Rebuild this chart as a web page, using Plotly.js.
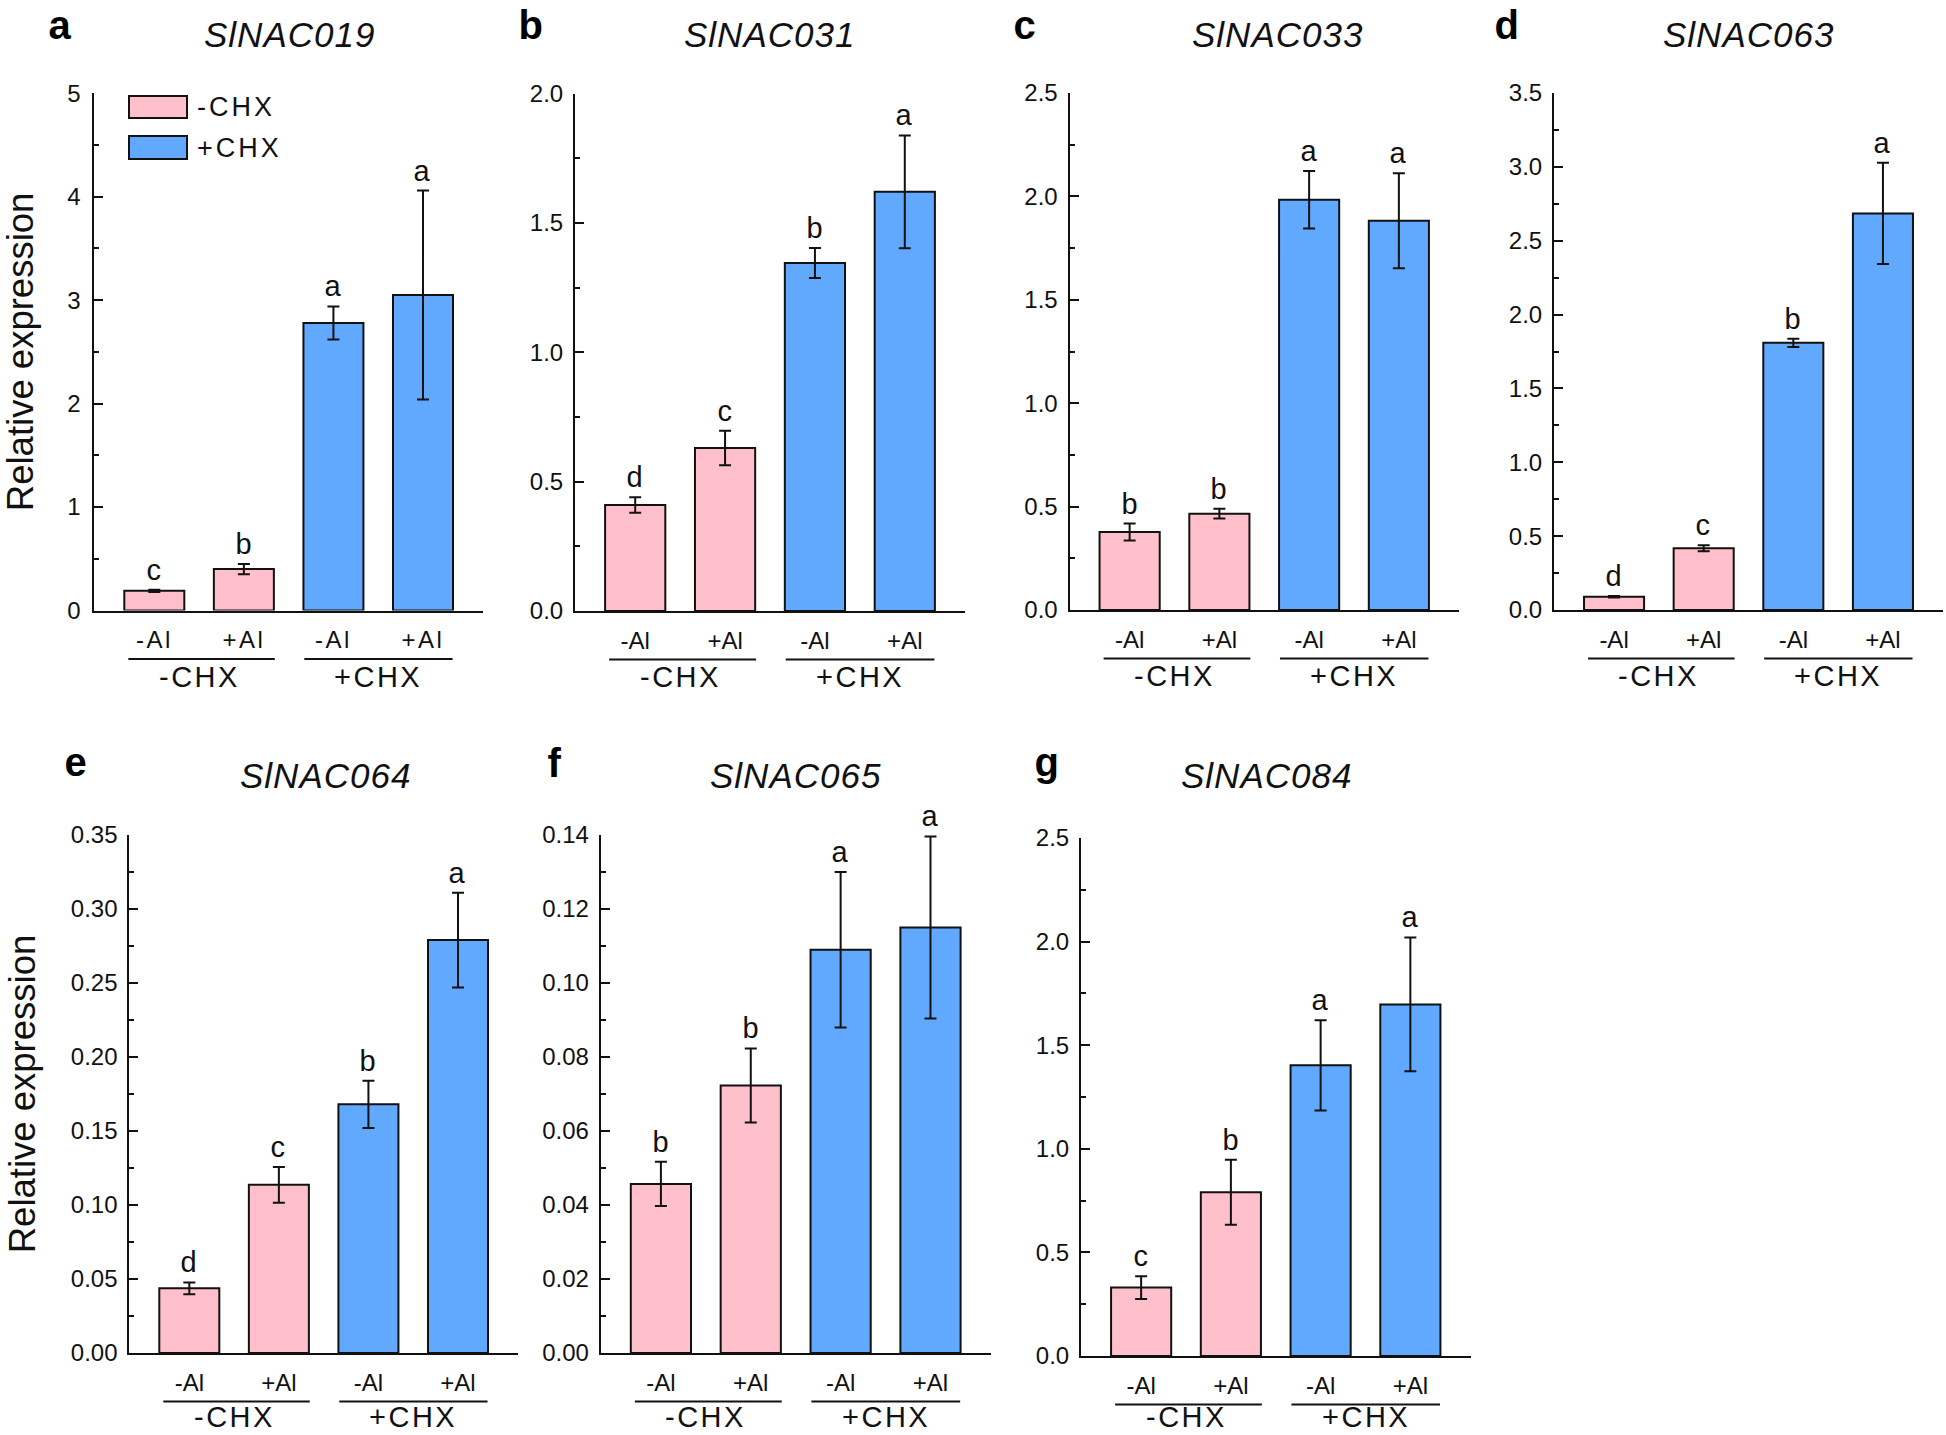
<!DOCTYPE html>
<html>
<head>
<meta charset="utf-8">
<script src="https://cdn.plot.ly/plotly-3.0.1.min.js"></script>
<style>
  html, body { margin: 0; padding: 0; background: #ffffff; }
  #chart { width: 1946px; height: 1435px; }
  #chart .xtick text { letter-spacing: 2.5px; }
  #chart .ytick text { letter-spacing: 2px; }
  #chart .annotation-text { letter-spacing: 1px; }
</style>
</head>
<body>
<div id="chart"></div>
<script>
// ---------------- DATA ----------------
const genes = ["SlNAC019", "SlNAC031", "SlNAC033", "SlNAC063", "SlNAC064", "SlNAC065", "SlNAC084"];
const panelTags = ["a", "b", "c", "d", "e", "f", "g"];
const alTicks = ["-Al", "+Al", "-Al", "+Al"];
const chxGroups = ["-CHX", "+CHX"];
const seriesNames = ["-CHX", "+CHX"];
const yTitle = "Relative expression";

const nac019Mean = [0.19, 0.40, 2.78, 3.05];
const nac019Err  = [0.01, 0.05, 0.16, 1.01];
const nac019Sig  = ["c", "b", "a", "a"];

const nac031Mean = [0.41, 0.63, 1.345, 1.62];
const nac031Err  = [0.03, 0.067, 0.058, 0.218];
const nac031Sig  = ["d", "c", "b", "a"];

const nac033Mean = [0.377, 0.466, 1.984, 1.882];
const nac033Err  = [0.041, 0.023, 0.139, 0.23];
const nac033Sig  = ["b", "b", "a", "a"];

const nac063Mean = [0.09, 0.418, 1.809, 2.685];
const nac063Err  = [0.005, 0.02, 0.028, 0.342];
const nac063Sig  = ["d", "c", "b", "a"];

const nac064Mean = [0.0437, 0.1136, 0.168, 0.279];
const nac064Err  = [0.004, 0.012, 0.016, 0.032];
const nac064Sig  = ["d", "c", "b", "a"];

const nac065Mean = [0.0457, 0.0723, 0.109, 0.115];
const nac065Err  = [0.006, 0.010, 0.021, 0.0246];
const nac065Sig  = ["b", "b", "a", "a"];

const nac084Mean = [0.33, 0.79, 1.403, 1.697];
const nac084Err  = [0.055, 0.157, 0.218, 0.323];
const nac084Sig  = ["c", "b", "a", "a"];

const yMax  = [5, 2.0, 2.5, 3.5, 0.35, 0.14, 2.5];
const yStep = [1, 0.5, 0.5, 0.5, 0.05, 0.02, 0.5];

// ---------------- STYLE / LAYOUT ----------------
const W = 1946, H = 1435;
const FONT = "Liberation Sans, Arial, Helvetica, sans-serif";
const INK = "#111111";
const colors = ["#FFC0CB", "#60A9FF"];
const yFormats = ["d", ".1f", ".1f", ".1f", ".2f", ".2f", ".1f"];

// plot-area boxes in pixels (left, right, top, bottom)
const boxes = [
  {l: 94.3,  r: 483,    t: 93.3, b: 610.5},
  {l: 575,   r: 965,    t: 93.5, b: 611},
  {l: 1069.5,r: 1459,   t: 93,   b: 610},
  {l: 1554,  r: 1943,   t: 93,   b: 610},
  {l: 129.3, r: 518,    t: 835,  b: 1353},
  {l: 600.7, r: 990.7,  t: 835,  b: 1353},
  {l: 1081,  r: 1470.5, t: 838,  b: 1356}
];
const tagPos = [[60, 25], [531, 25], [1025, 25], [1507, 25], [76, 762], [555, 763], [1047, 762]];
const titlePos = [[289, 34], [769.5, 34], [1278, 34], [1748.5, 34], [325, 775], [795.5, 775], [1266, 775]];

const means = [nac019Mean, nac031Mean, nac033Mean, nac063Mean, nac064Mean, nac065Mean, nac084Mean];
const errs  = [nac019Err, nac031Err, nac033Err, nac063Err, nac064Err, nac065Err, nac084Err];
const sigs  = [nac019Sig, nac031Sig, nac033Sig, nac063Sig, nac064Sig, nac065Sig, nac084Sig];

const px = x => x / W;
const py = y => 1 - y / H;
const spaced = (t, s) => '<span style="letter-spacing:' + s + 'px">' + t + '</span>';

const traces = [];
const layout = {
  width: W, height: H,
  margin: {l: 0, r: 0, t: 0, b: 0},
  paper_bgcolor: "#ffffff",
  plot_bgcolor: "#ffffff",
  showlegend: false,
  barmode: "overlay",
  font: {family: FONT, color: INK},
  annotations: [],
  shapes: []
};

const xIdx = [0, 1, 2, 3];
const groupIdx = [[0, 1], [2, 3]];
const groupLine = [[-0.29, 1.345], [1.675, 3.33]];
const GROUP_FS = 29;

genes.forEach((gene, k) => {
  const xs = k === 0 ? "x" : "x" + (k + 1);
  const ys = k === 0 ? "y" : "y" + (k + 1);
  const xKey = k === 0 ? "xaxis" : "xaxis" + (k + 1);
  const yKey = k === 0 ? "yaxis" : "yaxis" + (k + 1);
  const bx = boxes[k];

  groupIdx.forEach((idx, g) => {
    traces.push({
      type: "bar",
      name: seriesNames[g],
      x: idx.map(i => xIdx[i]),
      y: idx.map(i => means[k][i]),
      width: 0.67,
      xaxis: xs, yaxis: ys,
      marker: {color: colors[g], line: {color: INK, width: 2}},
      error_y: {type: "data", array: idx.map(i => errs[k][i]), visible: true,
                color: INK, thickness: 2, width: 6},
      hoverinfo: "x+y"
    });
  });

  layout[xKey] = {
    domain: [px(bx.l), px(bx.r)],
    anchor: ys,
    range: [-0.67, 3.67],
    tickvals: xIdx,
    ticktext: alTicks,
    ticks: "",
    showline: true, linewidth: 2, linecolor: INK,
    showgrid: false, zeroline: false,
    tickfont: {family: FONT, size: 24, color: INK},
    ticklabelstandoff: 7,
    fixedrange: true
  };
  layout[yKey] = {
    domain: [py(bx.b), py(bx.t)],
    anchor: xs,
    range: [0, yMax[k]],
    tick0: 0, dtick: yStep[k],
    tickformat: yFormats[k],
    ticks: "inside", ticklen: 9, tickwidth: 2, tickcolor: INK,
    minor: {ticks: "inside", ticklen: 5, tickwidth: 2, tickcolor: INK, dtick: yStep[k] / 2, showgrid: false},
    showline: true, linewidth: 2, linecolor: INK,
    showgrid: false, zeroline: false,
    tickfont: {family: FONT, size: 24, color: INK},
    ticklabelstandoff: 5,
    fixedrange: true
  };
  if (k === 0 || k === 4) {
    layout[yKey].title = {text: yTitle, font: {family: FONT, size: 36.5, color: INK}, standoff: 24};
  }

  // gene title
  layout.annotations.push({
    xref: "paper", yref: "paper",
    x: px(titlePos[k][0]), y: py(titlePos[k][1]),
    xanchor: "center", yanchor: "middle",
    text: "<i>" + gene + "</i>", showarrow: false,
    font: {family: FONT, size: 35, color: INK}
  });
  // panel tag
  layout.annotations.push({
    xref: "paper", yref: "paper",
    x: px(tagPos[k][0]), y: py(tagPos[k][1]),
    xanchor: "center", yanchor: "middle",
    text: "<b>" + panelTags[k] + "</b>", showarrow: false,
    font: {family: FONT, size: 40, color: "#000"}
  });
  // significance letters
  xIdx.forEach(i => {
    layout.annotations.push({
      xref: xs, yref: ys,
      x: xIdx[i], y: means[k][i] + errs[k][i],
      xanchor: "center", yanchor: "bottom", yshift: 2,
      text: sigs[k][i], showarrow: false,
      font: {family: FONT, size: 29, color: INK}
    });
  });
  // CHX group lines and labels
  const gy = Math.min(bx.b + 66, H - 2 - 0.56 * GROUP_FS);
  groupIdx.forEach((idx, g) => {
    layout.shapes.push({
      type: "line", xref: xs, yref: "paper",
      x0: groupLine[g][0], x1: groupLine[g][1],
      y0: py(bx.b + 48.5), y1: py(bx.b + 48.5),
      line: {color: INK, width: 2}
    });
    layout.annotations.push({
      xref: xs, yref: "paper",
      x: (xIdx[idx[0]] + xIdx[idx[1]]) / 2, y: py(gy),
      xanchor: "center", yanchor: "middle",
      text: spaced(chxGroups[g], 2.5), showarrow: false,
      font: {family: FONT, size: GROUP_FS, color: INK}
    });
  });
});

// custom legend in panel a
const legendBoxes = [[129, 96, 187, 118], [129, 136, 187, 159]];
seriesNames.forEach((nm, g) => {
  const b = legendBoxes[g];
  layout.shapes.push({
    type: "rect", xref: "paper", yref: "paper",
    x0: px(b[0]), x1: px(b[2]), y0: py(b[3]), y1: py(b[1]),
    fillcolor: colors[g], line: {color: INK, width: 2}
  });
  layout.annotations.push({
    xref: "paper", yref: "paper",
    x: px(b[2] + 8), y: py((b[1] + b[3]) / 2),
    xanchor: "left", yanchor: "middle",
    text: spaced(nm, 3), showarrow: false,
    font: {family: FONT, size: 27, color: INK}
  });
});

Plotly.newPlot("chart", traces, layout, {staticPlot: true, displayModeBar: false});
</script>
</body>
</html>
